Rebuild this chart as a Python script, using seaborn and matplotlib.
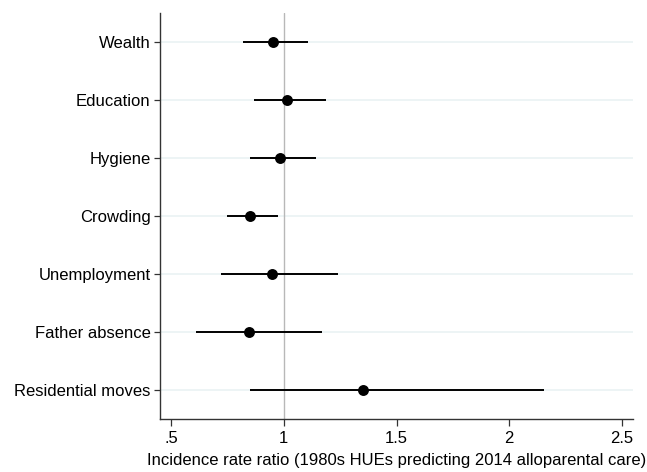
import numpy as np
import matplotlib
matplotlib.use("Agg")
import matplotlib.pyplot as plt
import seaborn as sns
import pandas as pd

predictors = ["Wealth", "Education", "Hygiene", "Crowding",
              "Unemployment", "Father absence", "Residential moves"]
irr = [0.953, 1.012, 0.982, 0.852, 0.947, 0.846, 1.350]
ci_low = [0.817, 0.867, 0.848, 0.750, 0.723, 0.609, 0.848]
ci_high = [1.108, 1.185, 1.144, 0.972, 1.242, 1.171, 2.153]
xticks = [0.5, 1, 1.5, 2, 2.5]
xticklabels = [".5", "1", "1.5", "2", "2.5"]

sns.set_style("white")
plt.rcParams['font.family'] = ['Liberation Sans', 'DejaVu Sans']
plt.rcParams['text.color'] = 'black'
plt.rcParams['xtick.color'] = 'black'
plt.rcParams['ytick.color'] = 'black'
plt.rcParams['axes.labelcolor'] = 'black'

df = pd.DataFrame({"predictor": predictors, "irr": irr,
                   "lo": ci_low, "hi": ci_high})
df["pos"] = np.arange(len(df))

fig = plt.figure(figsize=(6.47, 4.72), dpi=100)
ax = fig.add_axes([0.2478, 0.1123, 0.7302, 0.8602])

for p in df["pos"]:
    ax.axhline(p, color="#eaf2f3", lw=1.2, zorder=0)
ax.axvline(1, color="#b8b8b8", lw=1.0, zorder=1)

ax.hlines(df["pos"], df["lo"], df["hi"], color="black", lw=1.4, zorder=2)
sns.scatterplot(data=df, x="irr", y="pos", color="black", s=62,
                edgecolor="black", linewidth=0, ax=ax, zorder=3)

ax.set_ylim(len(df) - 0.5, -0.5)
ax.set_xlim(0.452, 2.548)
ax.set_yticks(df["pos"])
ax.set_yticklabels(predictors)
ax.set_xticks(xticks)
ax.set_xticklabels(xticklabels)
ax.set_ylabel("")
ax.set_xlabel("Incidence rate ratio (1980s HUEs predicting 2014 alloparental care)",
              fontsize=12, labelpad=5)

for s in ["top", "right"]:
    ax.spines[s].set_visible(False)
for s in ["left", "bottom"]:
    ax.spines[s].set_color("#333333")
    ax.spines[s].set_linewidth(1.0)
ax.tick_params(axis="both", which="major", direction="out", length=4,
               width=0.9, color="#333333", labelcolor="black", labelsize=12,
               pad=3, left=True, bottom=True)
ax.tick_params(axis="x", length=5, pad=4)

fig.savefig("out.png", dpi=100)
